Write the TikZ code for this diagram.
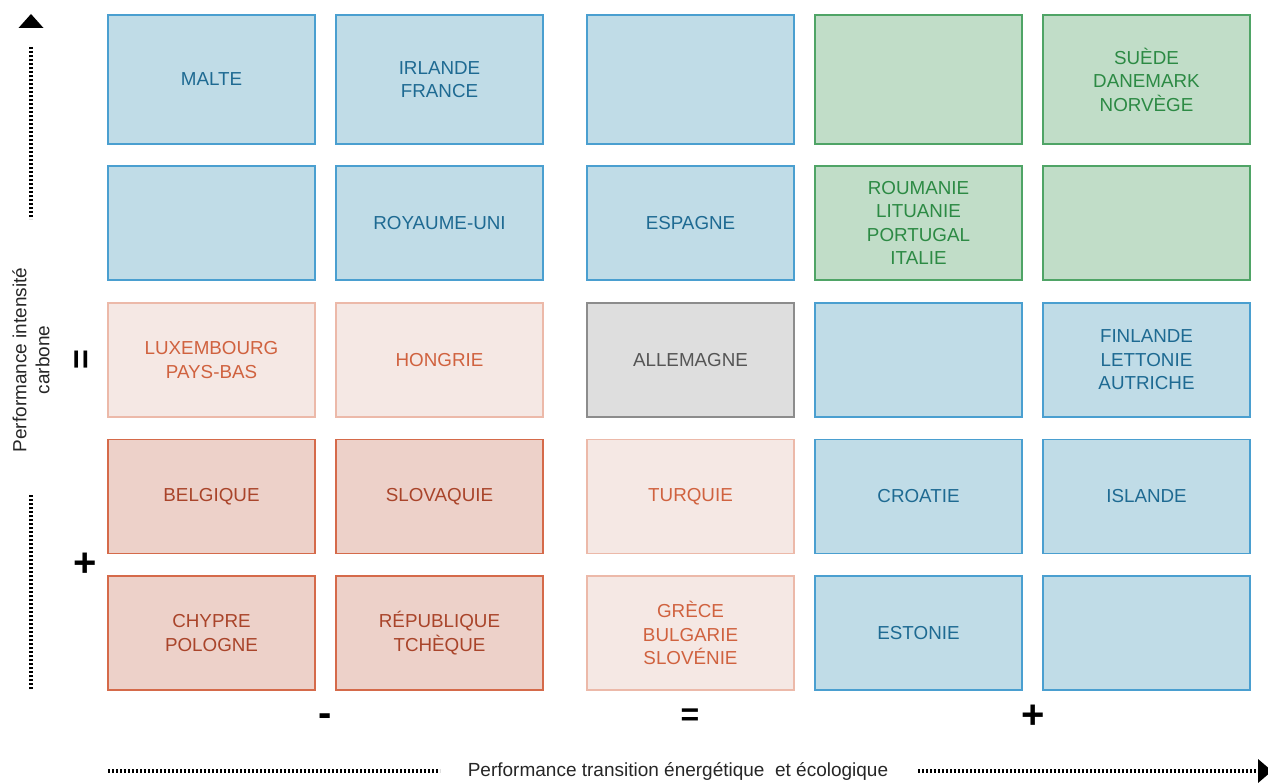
\documentclass[tikz,border=0pt]{standalone}
\usepackage{fontspec}
\setmainfont{Liberation Sans}
\definecolor{bfill}{HTML}{C0DCE7}
\definecolor{bdraw}{HTML}{4A9FD0}
\definecolor{btext}{HTML}{1E6A92}
\definecolor{gfill}{HTML}{C1DDC8}
\definecolor{gdraw}{HTML}{4FA466}
\definecolor{gtext}{HTML}{2C8A44}
\definecolor{pfill}{HTML}{F5E8E4}
\definecolor{pdraw}{HTML}{ECB9A9}
\definecolor{ptext}{HTML}{D0623F}
\definecolor{rfill}{HTML}{EDD1C9}
\definecolor{rdraw}{HTML}{D56A4A}
\definecolor{rtext}{HTML}{A9442A}
\definecolor{afill}{HTML}{DEDEDE}
\definecolor{adraw}{HTML}{8C8C8C}
\definecolor{atext}{HTML}{555555}
\tikzset{
  cell/.style={rectangle, line width=1.5pt, minimum width=207pt, align=center,
    font=\fontsize{18.8}{23.5}\selectfont, inner sep=0pt},
  bluecell/.style={cell, fill=bfill, draw=bdraw, text=btext},
  greencell/.style={cell, fill=gfill, draw=gdraw, text=gtext},
  pinkcell/.style={cell, fill=pfill, draw=pdraw, text=ptext},
  redcell/.style={cell, fill=rfill, draw=rdraw, text=rtext},
  greycell/.style={cell, fill=afill, draw=adraw, text=atext},
  rowa/.style={minimum height=129pt},
  rowb/.style={minimum height=114pt},
  dotline/.style={line width=3.5pt, dash pattern=on 2pt off 2pt},
  sym/.style={font=\fontsize{32}{32}\selectfont\bfseries, inner sep=0pt},
  bigsym/.style={font=\fontsize{40}{40}\selectfont\bfseries, inner sep=0pt},
  axislabel/.style={font=\fontsize{19}{23}\selectfont, text=black!85, align=center, inner sep=0pt}
}
\begin{document}
\begin{tikzpicture}[x=1pt,y=-1pt]
\useasboundingbox (0,0) rectangle (1268,783);
% row 1
\node[bluecell,rowa] (c11) at (211.5,79.5) {MALTE};
\node[bluecell,rowa] (c12) at (439.5,79.5) {IRLANDE\\FRANCE};
\node[bluecell,rowa] (c13) at (690.5,79.5) {};
\node[greencell,rowa] (c14) at (918.5,79.5) {};
\node[greencell,rowa] (c15) at (1146.5,79.5) {SUÈDE\\DANEMARK\\NORVÈGE};
% row 2
\node[bluecell,rowb] (c21) at (211.5,223) {};
\node[bluecell,rowb] (c22) at (439.5,223) {ROYAUME-UNI};
\node[bluecell,rowb] (c23) at (690.5,223) {ESPAGNE};
\node[greencell,rowb] (c24) at (918.5,223) {ROUMANIE\\LITUANIE\\PORTUGAL\\ITALIE};
\node[greencell,rowb] (c25) at (1146.5,223) {};
% row 3
\node[pinkcell,rowb] (c31) at (211.5,360) {LUXEMBOURG\\PAYS-BAS};
\node[pinkcell,rowb] (c32) at (439.5,360) {HONGRIE};
\node[greycell,rowb] (c33) at (690.5,360) {ALLEMAGNE};
\node[bluecell,rowb] (c34) at (918.5,360) {};
\node[bluecell,rowb] (c35) at (1146.5,360) {FINLANDE\\LETTONIE\\AUTRICHE};
% row 4
\node[redcell,rowb] (c41) at (211.5,496.5) {BELGIQUE};
\node[redcell,rowb] (c42) at (439.5,496.5) {SLOVAQUIE};
\node[pinkcell,rowb] (c43) at (690.5,496.5) {TURQUIE};
\node[bluecell,rowb] (c44) at (918.5,496.5) {CROATIE};
\node[bluecell,rowb] (c45) at (1146.5,496.5) {ISLANDE};
% row 5
\node[redcell,rowb] (c51) at (211.5,633) {CHYPRE\\POLOGNE};
\node[redcell,rowb] (c52) at (439.5,633) {RÉPUBLIQUE\\TCHÈQUE};
\node[pinkcell,rowb] (c53) at (690.5,633) {GRÈCE\\BULGARIE\\SLOVÉNIE};
\node[bluecell,rowb] (c54) at (918.5,633) {ESTONIE};
\node[bluecell,rowb] (c55) at (1146.5,633) {};
% vertical axis
\coordinate (vt1) at (31,47);
\coordinate (vt2) at (31,219);
\coordinate (vb1) at (31,495);
\coordinate (vb2) at (31,690);
\draw[dotline] (vt1) -- (vt2);
\draw[dotline] (vb1) -- (vb2);
\fill (31,14) -- (43.5,28) -- (18.5,28) -- cycle;
\node[axislabel, rotate=90] (vlab) at (31,360) {Performance intensité\\carbone};
\node[sym, font=\fontsize{34}{34}\selectfont\bfseries, rotate=90] (veq) at (84,360) {=};
\node[bigsym] (vplus) at (85,565) {+};
% horizontal axis
\coordinate (ha1) at (108,771);
\coordinate (ha2) at (440,771);
\coordinate (hb1) at (918,771);
\coordinate (hb2) at (1256,771);
\draw[dotline] (ha1) -- (ha2);
\draw[dotline] (hb1) -- (hb2);
\fill (1258,759) -- (1272,771) -- (1258,783) -- cycle;
\node[axislabel] (hlab) at (678,771) {Performance transition énergétique\ \ et écologique};
\node[bigsym] (hminus) at (325,720) {-};
\node[sym] (heq) at (690,717) {=};
\node[bigsym] (hplus) at (1033,717) {+};
\end{tikzpicture}
\end{document}
